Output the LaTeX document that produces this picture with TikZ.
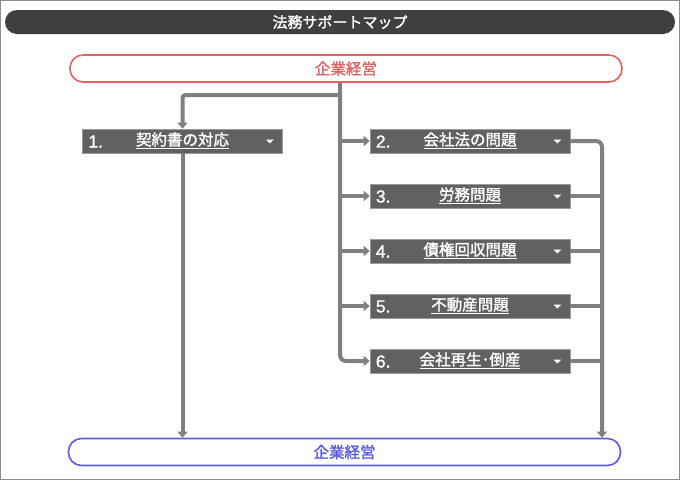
\documentclass[tikz,border=0pt]{standalone}
\usepackage{fontspec}
\setmainfont{Noto Sans CJK JP}
\newfontfamily\medfont{Noto Sans CJK JP}[FakeBold=1.6]
\newfontfamily\numfont{Liberation Sans}[FakeBold=1.2]
\usetikzlibrary{arrows.meta}
\definecolor{framegray}{HTML}{8C8C8C}
\definecolor{titlebg}{HTML}{404040}
\definecolor{redline}{HTML}{E06464}
\definecolor{blueline}{HTML}{5A5AE6}
\definecolor{boxfill}{HTML}{616161}
\definecolor{boxedge}{HTML}{9A9A9A}
\definecolor{conngray}{HTML}{808080}
\tikzset{
  x=1pt, y=-1pt,
  pillbox/.style={draw, line width=1.6pt, rounded corners=13pt, minimum width=552pt, minimum height=27pt, inner sep=0pt, font=\medfont\fontsize{15.5}{15.5}\selectfont},
  itembox/.style={fill=boxfill, draw=boxedge, line width=0.6pt, minimum width=200pt, minimum height=24pt, inner sep=0pt},
  itemnum/.style={anchor=west, text=white, font=\numfont\fontsize{17.5}{17.5}\selectfont, inner sep=0pt},
  itemlabel/.style={text=white, font=\medfont\fontsize{15.5}{15.5}\selectfont, inner sep=0pt},
  conn/.style={draw=conngray, line width=4pt},
  arr/.style={conn, -{Triangle[width=10pt,length=6pt]}},
}
\newcommand{\dropmark}[1]{\fill[white] ([xshift=-17pt,yshift=1.5pt]#1.east) -- ([xshift=-9pt,yshift=1.5pt]#1.east) -- ([xshift=-13pt,yshift=-2.5pt]#1.east) -- cycle;}
\newcommand{\ul}[1]{\underline{#1}}
\begin{document}
\begin{tikzpicture}
\useasboundingbox (0,0) rectangle (680,480);
\draw[framegray, line width=1.2pt] (0.6,0.6) rectangle (679.4,479.4);
% title
\node[fill=titlebg, rounded corners=12pt, minimum width=670pt, minimum height=24pt, inner sep=0pt, text=white, font=\medfont\fontsize{15}{15}\selectfont] (title) at (340,22) {法務サポートマップ};
% top and bottom boxes
\node[pillbox, draw=redline, fill=white, text=redline] (top) at (346,68.5) {企業経営};
\node[pillbox, draw=blueline, fill=white, text=blueline] (bot) at (344.5,452) {企業経営};
% item boxes
\node[itembox] (b1) at (182.5,141) {};
\node[itembox] (b2) at (470,141) {};
\node[itembox] (b3) at (470,196) {};
\node[itembox] (b4) at (470,251) {};
\node[itembox] (b5) at (470,306) {};
\node[itembox] (b6) at (470,361) {};
\foreach \b/\n/\t in {b1/1./契約書の対応, b2/2./会社法の問題, b3/3./労務問題, b4/4./債権回収問題, b5/5./不動産問題, b6/6./会社再生･倒産}{
  \node[itemnum] (\b num) at ([xshift=6pt,yshift=-0.5pt]\b.west) {\n};
  \node[itemlabel] (\b lab) at ([yshift=0.5pt]\b.center) {\ul{\t}};
  \dropmark{\b}
}
% junction coordinates
\coordinate (j) at (340,95);
\coordinate (r) at (602,0);
% left trunk
\draw[conn] (top.south -| j) -- (j);
\draw[arr, rounded corners=3pt] (j) -| (b1.north);
\draw[arr, rounded corners=6pt] (j) |- (b6.west);
\foreach \b in {b2,b3,b4,b5}{
  \draw[arr] (j |- \b.west) -- (\b.west);
}
% box 1 down
\draw[arr] (b1.south) -- (b1.south |- bot.north);
% right collector
\draw[arr, rounded corners=6pt] (b2.east) -- (b2.east -| r) -- (r |- bot.north);
\foreach \b in {b3,b4,b5,b6}{
  \draw[conn] (\b.east) -- (\b.east -| r);
}
\end{tikzpicture}
\end{document}
